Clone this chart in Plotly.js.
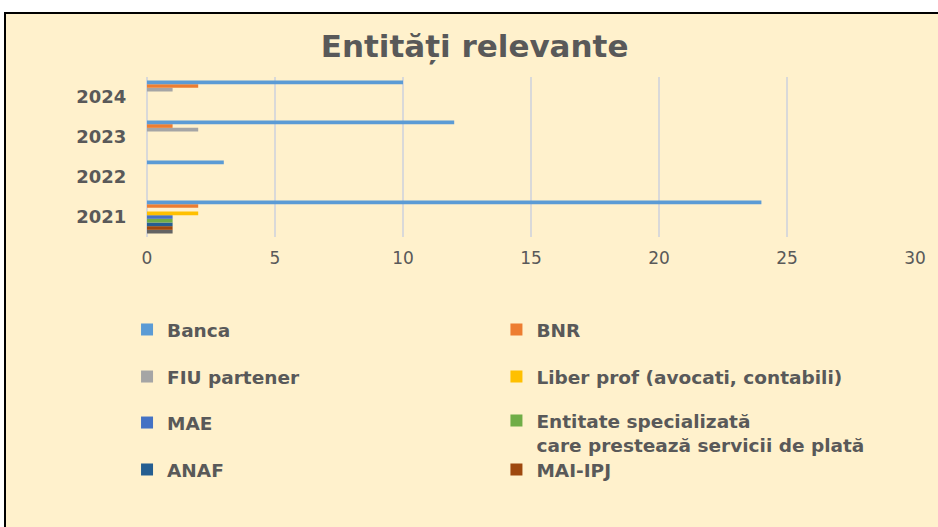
<!DOCTYPE html>
<html>
<head>
<meta charset="utf-8">
<script src="https://cdn.plot.ly/plotly-3.0.1.min.js"></script>
<style>
  html, body { margin:0; padding:0; background:#ffffff; width:938px; height:527px; overflow:hidden; }
  #frame { position:absolute; left:4px; top:12px; width:940px; height:520px; background:#FFF1CC; border:2px solid #000; box-sizing:border-box; }
  #chart { position:absolute; left:0; top:0; width:938px; height:527px; }
</style>
</head>
<body>
<div id="frame"></div>
<div id="chart"></div>
<script>
const years = ['2021', '2022', '2023', '2024'];
const seriesNames = ['Banca', 'BNR', 'FIU partener', 'Liber prof (avocati, contabili)', 'MAE',
  'Entitate specializată<br>care prestează servicii de plată', 'ANAF', 'MAI-IPJ', 'Altele'];
const banca    = [24, 3, 12, 10];
const bnr      = [2, 0, 1, 2];
const fiu      = [0, 0, 2, 1];
const liber    = [2, 0, 0, 0];
const mae      = [1, 0, 0, 0];
const entitate = [1, 0, 0, 0];
const anaf     = [1, 0, 0, 0];
const maiIpj   = [1, 0, 0, 0];
const altele   = [1, 0, 0, 0];
const xTicks = [0, 5, 10, 15, 20, 25, 30];

const values = [banca, bnr, fiu, liber, mae, entitate, anaf, maiIpj, altele];
const colors = ['#5B9BD5', '#ED7D31', '#A5A5A5', '#FFC000', '#4472C4', '#70AD47', '#255E91', '#9E480E', '#636363'];

// legend placement (paper coords) for each of the 8 visible series
const legendPos = [
  {x: -0.026, y: -0.581}, {x: 0.455, y: -0.581},
  {x: -0.026, y: -0.875}, {x: 0.455, y: -0.875},
  {x: -0.026, y: -1.1625}, {x: 0.455, y: -1.225},
  {x: -0.026, y: -1.456}, {x: 0.455, y: -1.456}
];

const traces = [];
for (let i = values.length - 1; i >= 0; i--) {
  traces.push({
    type: 'bar', orientation: 'h',
    y: years, x: values[i], name: seriesNames[i],
    marker: {color: colors[i]},
    showlegend: i < 8,
    legend: i === 0 ? 'legend' : 'legend' + (i + 1),
    hoverinfo: 'x+name'
  });
}

const legendFont = {family: 'DejaVu Sans', size: 18.5, color: '#595959', weight: 'bold'};
const layout = {
  width: 938, height: 527,
  paper_bgcolor: 'rgba(0,0,0,0)', plot_bgcolor: 'rgba(0,0,0,0)',
  margin: {l: 147, r: 23, t: 77, b: 290},
  barmode: 'group', bargap: 0.175, bargroupgap: 0,
  title: {text: 'Entități relevante', font: {family: 'DejaVu Sans', size: 31, color: '#595959', weight: 'bold'},
          x: 0.506, xref: 'container', xanchor: 'center', y: 0.912, yref: 'container', yanchor: 'middle'},
  xaxis: {range: [0, 30], tickvals: xTicks, ticktext: xTicks.map(String),
          showgrid: true, gridcolor: '#D9D9D9', gridwidth: 2, zeroline: true, zerolinecolor: '#D9D9D9', zerolinewidth: 2,
          showline: false, ticks: 'outside', ticklen: 6, tickcolor: 'rgba(0,0,0,0)',
          tickfont: {family: 'DejaVu Sans', size: 17, color: '#595959'}, fixedrange: true},
  yaxis: {type: 'category', categoryorder: 'array', categoryarray: years,
          showgrid: false, zeroline: false, showline: false, ticks: 'outside', ticklen: 16, tickcolor: 'rgba(0,0,0,0)',
          tickfont: {family: 'DejaVu Sans', size: 18, color: '#595959', weight: 'bold'}, fixedrange: true},
  showlegend: true
};
for (let i = 0; i < 8; i++) {
  const key = i === 0 ? 'legend' : 'legend' + (i + 1);
  layout[key] = {x: legendPos[i].x, y: legendPos[i].y, xanchor: 'left', yanchor: 'middle',
    bgcolor: 'rgba(0,0,0,0)', borderwidth: 0, font: legendFont, valign: 'top', itemclick: false, itemdoubleclick: false};
}

Plotly.newPlot('chart', traces, layout, {displayModeBar: false, staticPlot: true});
</script>
</body>
</html>
